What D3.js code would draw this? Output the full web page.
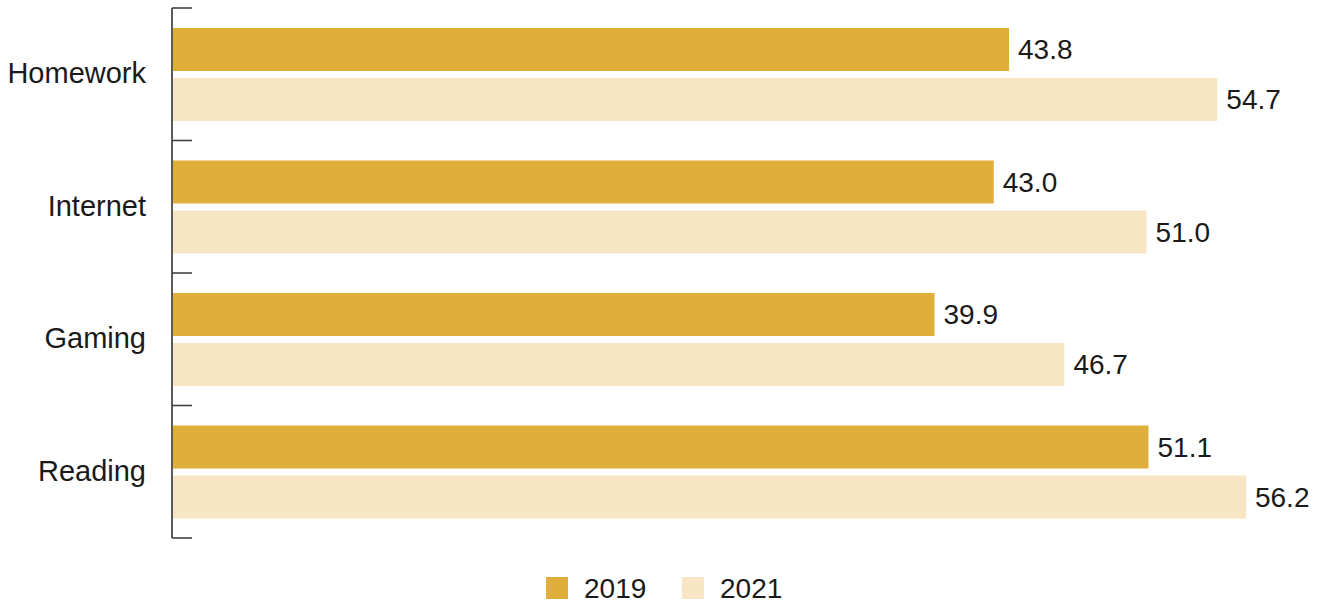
<!DOCTYPE html>
<html>
<head>
<meta charset="utf-8">
<script src="https://cdn.jsdelivr.net/npm/d3@7"></script>
<style>
  body { margin: 0; background: #fff; }
  text { font-family: "Liberation Sans", Arial, sans-serif; fill: #1a1a1a; }
</style>
</head>
<body>
<svg id="main_chart" width="1330" height="603"></svg>
<script>
(function() {
  const categories = ['Homework', 'Internet', 'Gaming', 'Reading'];
  const years = ['2019', '2021'];
  const values_2019 = [43.8, 43.0, 39.9, 51.1];
  const values_2021 = [54.7, 51.0, 46.7, 56.2];
  const colors = ['#e0ae3a', '#f7e5c4'];

  const rows = categories.map(function(c, i) {
    return { category: c, values: [values_2019[i], values_2021[i]] };
  });

  const svg = d3.select('#main_chart');
  const left = 172;

  const xScale = d3.scaleLinear().domain([0, 60]).range([left, left + 60 * 19.11]);
  const yScale = d3.scaleBand().domain(categories).range([8, 538]);
  const inner = d3.scaleBand().domain(years).range([20, 113]).paddingInner(0.14);

  // axis with ticks at the band edges
  const axis = svg.append('g').attr('class', 'axis');
  axis.append('line')
    .attr('x1', left).attr('x2', left)
    .attr('y1', yScale.range()[0]).attr('y2', yScale.range()[1])
    .attr('stroke', '#333').attr('stroke-width', 1.6);
  const edges = categories.map(function(c) { return yScale(c); }).concat([yScale.range()[1]]);
  axis.selectAll('line.tick').data(edges).enter().append('line')
    .attr('class', 'tick')
    .attr('x1', left).attr('x2', left + 20)
    .attr('y1', function(d) { return d; }).attr('y2', function(d) { return d; })
    .attr('stroke', '#444').attr('stroke-width', 1.6);

  axis.selectAll('text.cat').data(categories).enter().append('text')
    .attr('class', 'cat')
    .attr('x', left - 26)
    .attr('y', function(d) { return yScale(d) + yScale.bandwidth() / 2 - 1; })
    .attr('dy', '0.35em')
    .attr('text-anchor', 'end')
    .attr('font-size', 29)
    .text(function(d) { return d; });

  const groups = svg.selectAll('g.row').data(rows).enter().append('g')
    .attr('class', 'row')
    .attr('transform', function(d) { return 'translate(0,' + yScale(d.category) + ')'; });

  const bars = groups.selectAll('g.bar').data(function(d) {
    return d.values.map(function(v, i) { return { year: years[i], value: v, i: i }; });
  }).enter().append('g').attr('class', 'bar');

  bars.append('rect')
    .attr('x', xScale(0) + 1)
    .attr('y', function(d) { return inner(d.year); })
    .attr('width', function(d) { return xScale(d.value) - xScale(0) - 1; })
    .attr('height', inner.bandwidth())
    .attr('fill', function(d) { return colors[d.i]; });

  bars.append('text')
    .attr('x', function(d) { return xScale(d.value) + 9; })
    .attr('y', function(d) { return inner(d.year) + inner.bandwidth() / 2; })
    .attr('dy', '0.35em')
    .attr('font-size', 28)
    .text(function(d) { return d.value.toFixed(1); });

  // legend
  const legend = svg.append('g').attr('class', 'legend');
  const legendX = [546, 682];
  const items = legend.selectAll('g').data(years).enter().append('g')
    .attr('transform', function(d, i) { return 'translate(' + legendX[i] + ',577)'; });
  items.append('rect').attr('width', 22).attr('height', 22)
    .attr('fill', function(d, i) { return colors[i]; });
  items.append('text').attr('x', 38).attr('y', 11).attr('dy', '0.35em')
    .attr('font-size', 28)
    .text(function(d) { return d; });
}());
</script>
</body>
</html>
